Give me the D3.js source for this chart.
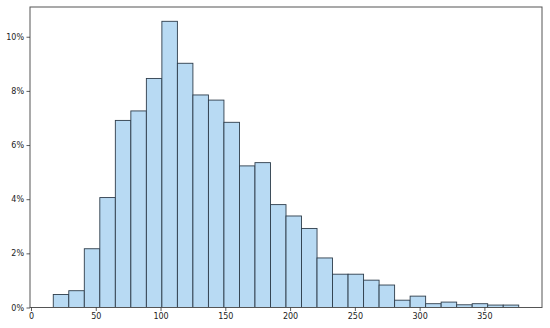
<!DOCTYPE html>
<html>
<head>
<meta charset="utf-8">
<script src="https://cdn.jsdelivr.net/npm/d3@7"></script>
<style>
html,body{margin:0;padding:0;background:#fff;}
svg{display:block;}
text{font-family:"DejaVu Sans",sans-serif;}
</style>
</head>
<body>
<svg id="chart" width="550" height="328"></svg>
<script>
// Histogram: 30 bins between binStart and binEnd, heights in percent
const binStart = 17.2;
const binEnd = 376.5;
const percents = [0.48, 0.62, 2.17, 4.06, 6.91, 7.26, 8.46, 10.57, 9.02, 7.85,
                  7.66, 6.84, 5.23, 5.35, 3.80, 3.38, 2.92, 1.83, 1.23, 1.23,
                  1.01, 0.83, 0.27, 0.42, 0.14, 0.20, 0.10, 0.14, 0.09, 0.09];
const xTicks = [0, 50, 100, 150, 200, 250, 300, 350];
const yTicks = [0, 2, 4, 6, 8, 10];

const svg = d3.select("#chart");
const L = 30, R = 542, T = 7, B = 307.5;
const n = percents.length;
const bw = (binEnd - binStart) / n;
const bins = percents.map((p, i) => ({x0: binStart + i * bw, x1: binStart + (i + 1) * bw, p}));

const span = binEnd - binStart;
const x = d3.scaleLinear().domain([binStart - 0.05 * span, binEnd + 0.05 * span]).range([L, R]);
const yMax = d3.max(percents) * 1.05;
const y = d3.scaleLinear().domain([0, yMax]).range([B, T]);

svg.append("g").selectAll("rect").data(bins).join("rect")
  .attr("x", d => x(d.x0))
  .attr("y", d => y(d.p))
  .attr("width", d => x(d.x1) - x(d.x0))
  .attr("height", d => y(0) - y(d.p))
  .attr("fill", "#b8daf3")
  .attr("stroke", "#2e3d4b")
  .attr("stroke-width", 0.9);

// frame
svg.append("rect").attr("x", L).attr("y", T).attr("width", R - L).attr("height", B - T)
  .attr("fill", "none").attr("stroke", "#555").attr("stroke-width", 1);

const xa = svg.append("g").attr("transform", `translate(0,${B})`)
  .call(d3.axisBottom(x).tickValues(xTicks).tickSize(3.5).tickPadding(2.5).tickFormat(d3.format("d")));
const ya = svg.append("g").attr("transform", `translate(${L},0)`)
  .call(d3.axisLeft(y).tickValues(yTicks).tickSize(3.5).tickPadding(2.5).tickFormat(d => d + "%"));
[xa, ya].forEach(g => {
  g.select(".domain").remove();
  g.selectAll(".tick line").attr("stroke", "#333").attr("stroke-width", 0.8);
  g.selectAll(".tick text").attr("fill", "#222").style("font-size", "8px").style("font-family", "DejaVu Sans, sans-serif");
});
</script>
</body>
</html>
